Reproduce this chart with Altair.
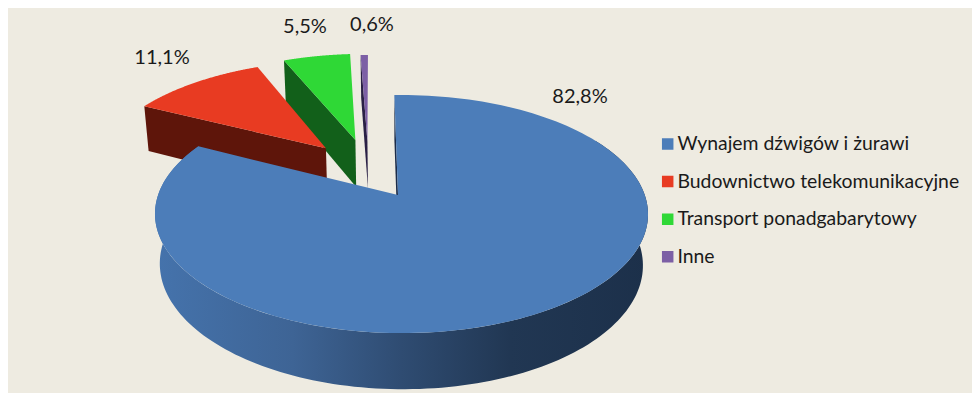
import math
import altair as alt

# Data
categories = ["Wynajem dźwigów i żurawi", "Budownictwo telekomunikacyjne", "Transport ponadgabarytowy", "Inne"]
shares = [82.8, 11.1, 5.5, 0.6]
share_labels = ["82,8%", "11,1%", "5,5%", "0,6%"]

# Styling
top_colors = ["#4C7DB9", "#E83B22", "#2FD836", "#7C5FA5"]
cut_colors = ["#1B2C4A", "#5E150A", "#12601A", "#2A2045"]
BG = "#EEEBE1"
FONT = "Lato"

# Layout: where each slice's apex sits on the disc (exploded), and label anchors in page pixels
explode = [(0.0, 0.0), (-0.318, 0.432), (-0.19, 0.515), (-0.136, 0.5)]
label_xy = [(580, 97), (162, 58), (305, 27), (372, 25)]
START_DEG = -1.0
OX, OY = 8, 8  # page margin

# Perspective camera for the disc
CX, CY, W, H, K, J, M, C = 398.0, 195.0, 243.3, 116.0, 0.16, -0.014, 0.02, 51.0


def project(u, v, z=0.0):
    den = 1 + K * v + J * u + M * z
    return [CX + W * u / den - OX, CY - (H * v - C * z) / den - OY]


def rim(i, a, z=0.0):
    r = math.radians(a)
    return project(explode[i][0] + math.sin(r), explode[i][1] + math.cos(r), z)


def arc(i, a0, a1, z=0.0, n=160):
    return [rim(i, a0 + (a1 - a0) * k / n, z) for k in range(n + 1)]


def feature(ring, name):
    return {
        "type": "Feature",
        "properties": {"name": name},
        "geometry": {"type": "Polygon", "coordinates": [ring + [ring[0]]]},
    }


bounds = []
acc = START_DEG
for s in shares:
    bounds.append((acc, acc + s * 3.6))
    acc += s * 3.6

projection = alt.Projection(type="identity", scale=1, translate=[0, 0])
color_scale = alt.Scale(domain=categories, range=top_colors)


def top_layer(i):
    a0, a1 = bounds[i]
    apex = project(*explode[i])
    ring = [apex] + arc(i, a0, a1)
    return alt.Chart(alt.Data(values=[feature(ring, categories[i])])).mark_geoshape(strokeWidth=0).encode(
        color=alt.Color(
            "properties.name:N",
            scale=color_scale,
            sort=categories,
            legend=alt.Legend(
                title=None,
                orient="none",
                legendX=650,
                legendY=123.5,
                symbolType="square",
                symbolSize=132,
                symbolStrokeWidth=0,
                symbolOpacity=1,
                labelFont=FONT,
                labelFontSize=19.4,
                labelColor="#1a1a1a",
                labelOffset=0,
                labelLimit=330,
                rowPadding=12.6,
                clipHeight=25,
            ),
        )
    )


def cut_layer(i, edge_deg):
    e = explode[i]
    ring = [project(*e), rim(i, edge_deg), rim(i, edge_deg, 1.0), project(e[0], e[1], 1.0)]
    return alt.Chart(alt.Data(values=[feature(ring, categories[i])])).mark_geoshape(
        fill=cut_colors[i], strokeWidth=0
    )


wall_ring = arc(0, 60, bounds[0][1]) + arc(0, bounds[0][1], 60, 1.0)
wall_gradient = alt.Gradient(
    gradient="linear",
    x1=0, x2=1, y1=0, y2=0,
    stops=[
        alt.GradientStop(offset=0.0, color="#4573AC"),
        alt.GradientStop(offset=0.28, color="#3E6495"),
        alt.GradientStop(offset=0.5, color="#2F4C72"),
        alt.GradientStop(offset=0.72, color="#213753"),
        alt.GradientStop(offset=1.0, color="#1C304A"),
    ],
)
wall = alt.Chart(alt.Data(values=[feature(wall_ring, categories[0])])).mark_geoshape(
    fill=wall_gradient, strokeWidth=0
)

layers = []
for i, edge in [(3, bounds[3][0]), (2, bounds[2][0]), (1, bounds[1][0])]:
    layers += [cut_layer(i, edge), top_layer(i)]
layers += [cut_layer(0, bounds[0][0]), wall, top_layer(0)]

for txt, (x, y) in zip(share_labels, label_xy):
    layers.append(
        alt.Chart(alt.Data(values=[{"t": txt}])).mark_text(
            font=FONT, fontSize=20, color="#1a1a1a", align="center", baseline="middle"
        ).encode(x=alt.value(x - OX), y=alt.value(y - OY), text="t:N")
    )

chart = alt.layer(*layers).properties(
    width=964,
    height=385,
    padding=0,
    autosize=alt.AutoSizeParams(type="none"),
    background=BG,
    projection=projection,
).configure_view(stroke=None)

chart.save("out.html", embed_options={"renderer": "svg", "actions": False})
